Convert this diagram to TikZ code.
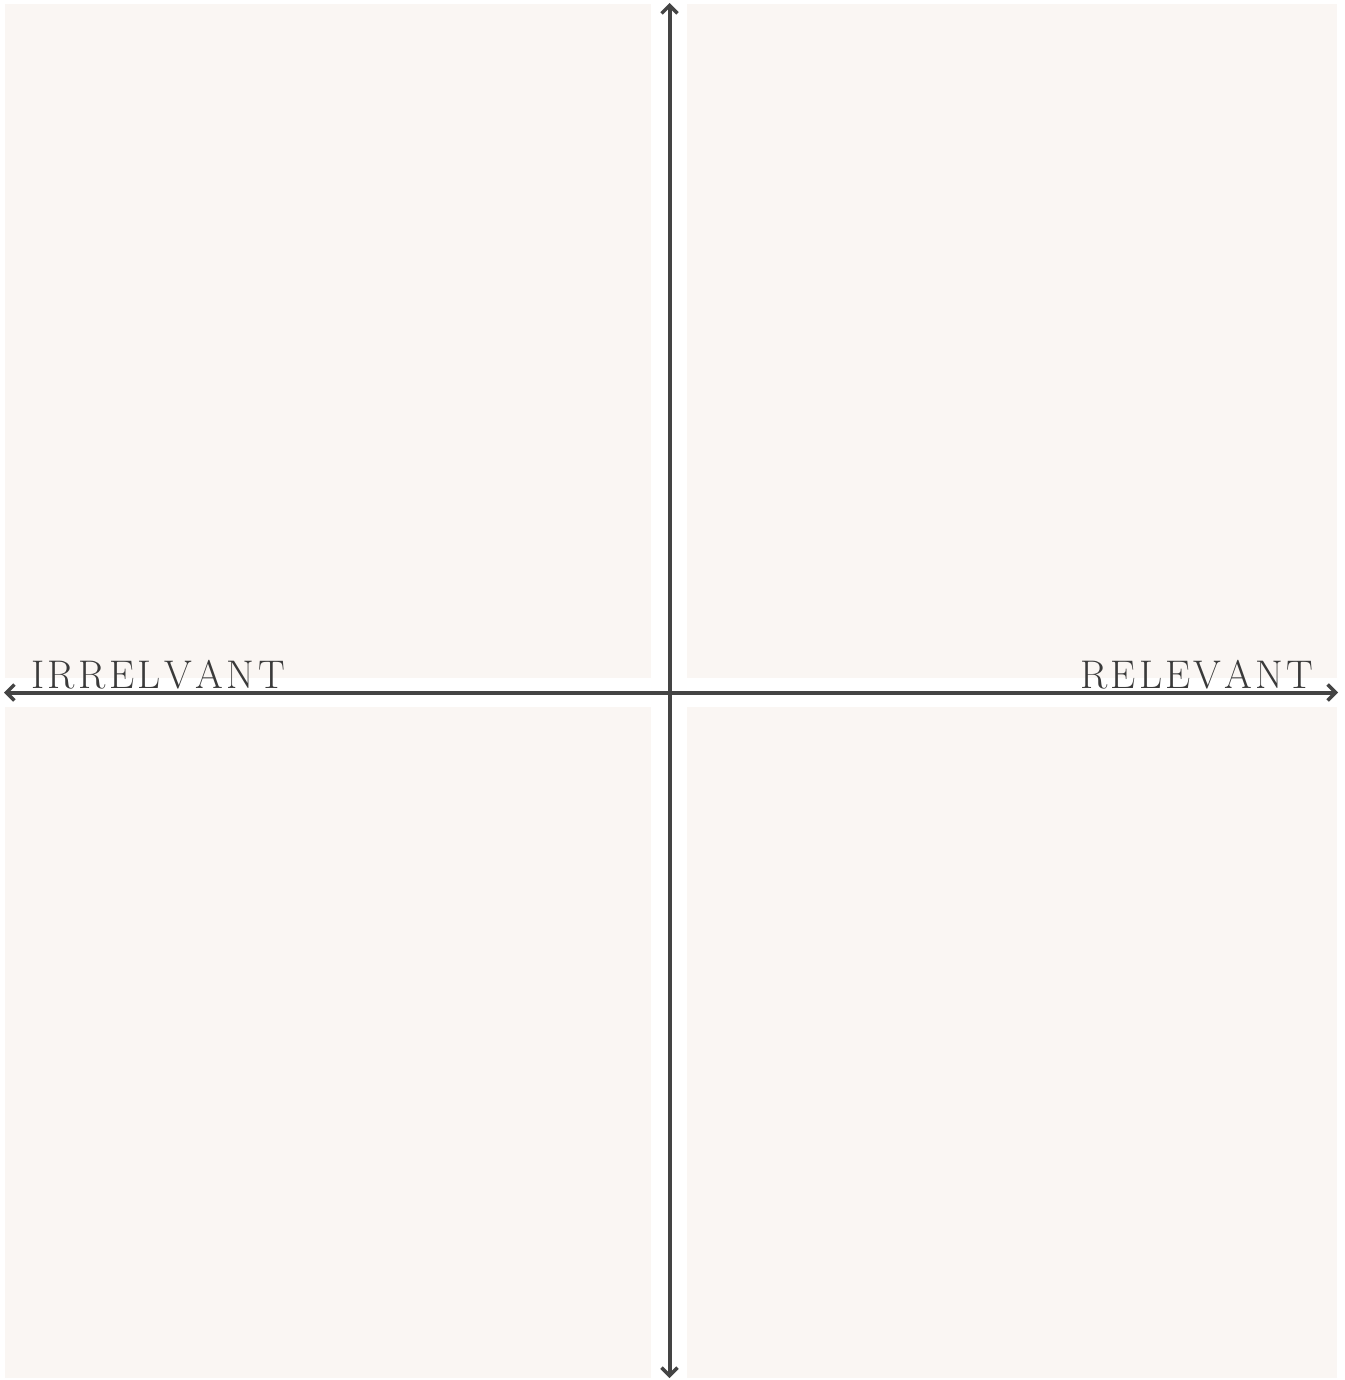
\documentclass[tikz,border=0pt]{standalone}
\usetikzlibrary{arrows.meta}
\definecolor{quad}{HTML}{FAF6F3}
\definecolor{axis}{HTML}{444444}
\definecolor{labeltext}{HTML}{3A3A3A}
\newcommand{\spc}[1]{\kern#1}
\begin{document}
\begin{tikzpicture}[x=1pt,y=-1pt,
  quadbox/.style={fill=quad,draw=none},
  axisline/.style={draw=axis,line width=4pt,{Straight Barb[length=8pt,width=16pt,line width=3.5pt]}-{Straight Barb[length=8pt,width=16pt,line width=3.5pt]}},
  axlabel/.style={inner sep=0pt,text=labeltext,font=\fontsize{40}{40}\selectfont}]
\useasboundingbox[fill=white] (0,0) rectangle (1344,1380);
\fill[quadbox] (5,4) rectangle (651,678);
\fill[quadbox] (687,4) rectangle (1337,678);
\fill[quadbox] (5,707) rectangle (651,1378);
\fill[quadbox] (687,707) rectangle (1337,1378);
\coordinate (top) at (669.5,3);
\coordinate (bottom) at (669.5,1378);
\coordinate (left) at (4,692.5);
\coordinate (right) at (1338,692.5);
\draw[axisline] (bottom) -- (top);
\draw[axisline] (left) -- (right);
\node[axlabel,anchor=base west] (irr) at (31,688) {I\spc{3.5pt}R\spc{3.5pt}R\spc{3.5pt}E\spc{3.5pt}L\spc{3.5pt}V\spc{3.5pt}A\spc{3.5pt}N\spc{3.5pt}T};
\node[axlabel,anchor=base west] (rel) at (1080,688) {R\spc{3.3pt}E\spc{3.3pt}L\spc{3.3pt}E\spc{3.3pt}V\spc{3.3pt}A\spc{3.3pt}N\spc{3.3pt}T};
\end{tikzpicture}
\end{document}
